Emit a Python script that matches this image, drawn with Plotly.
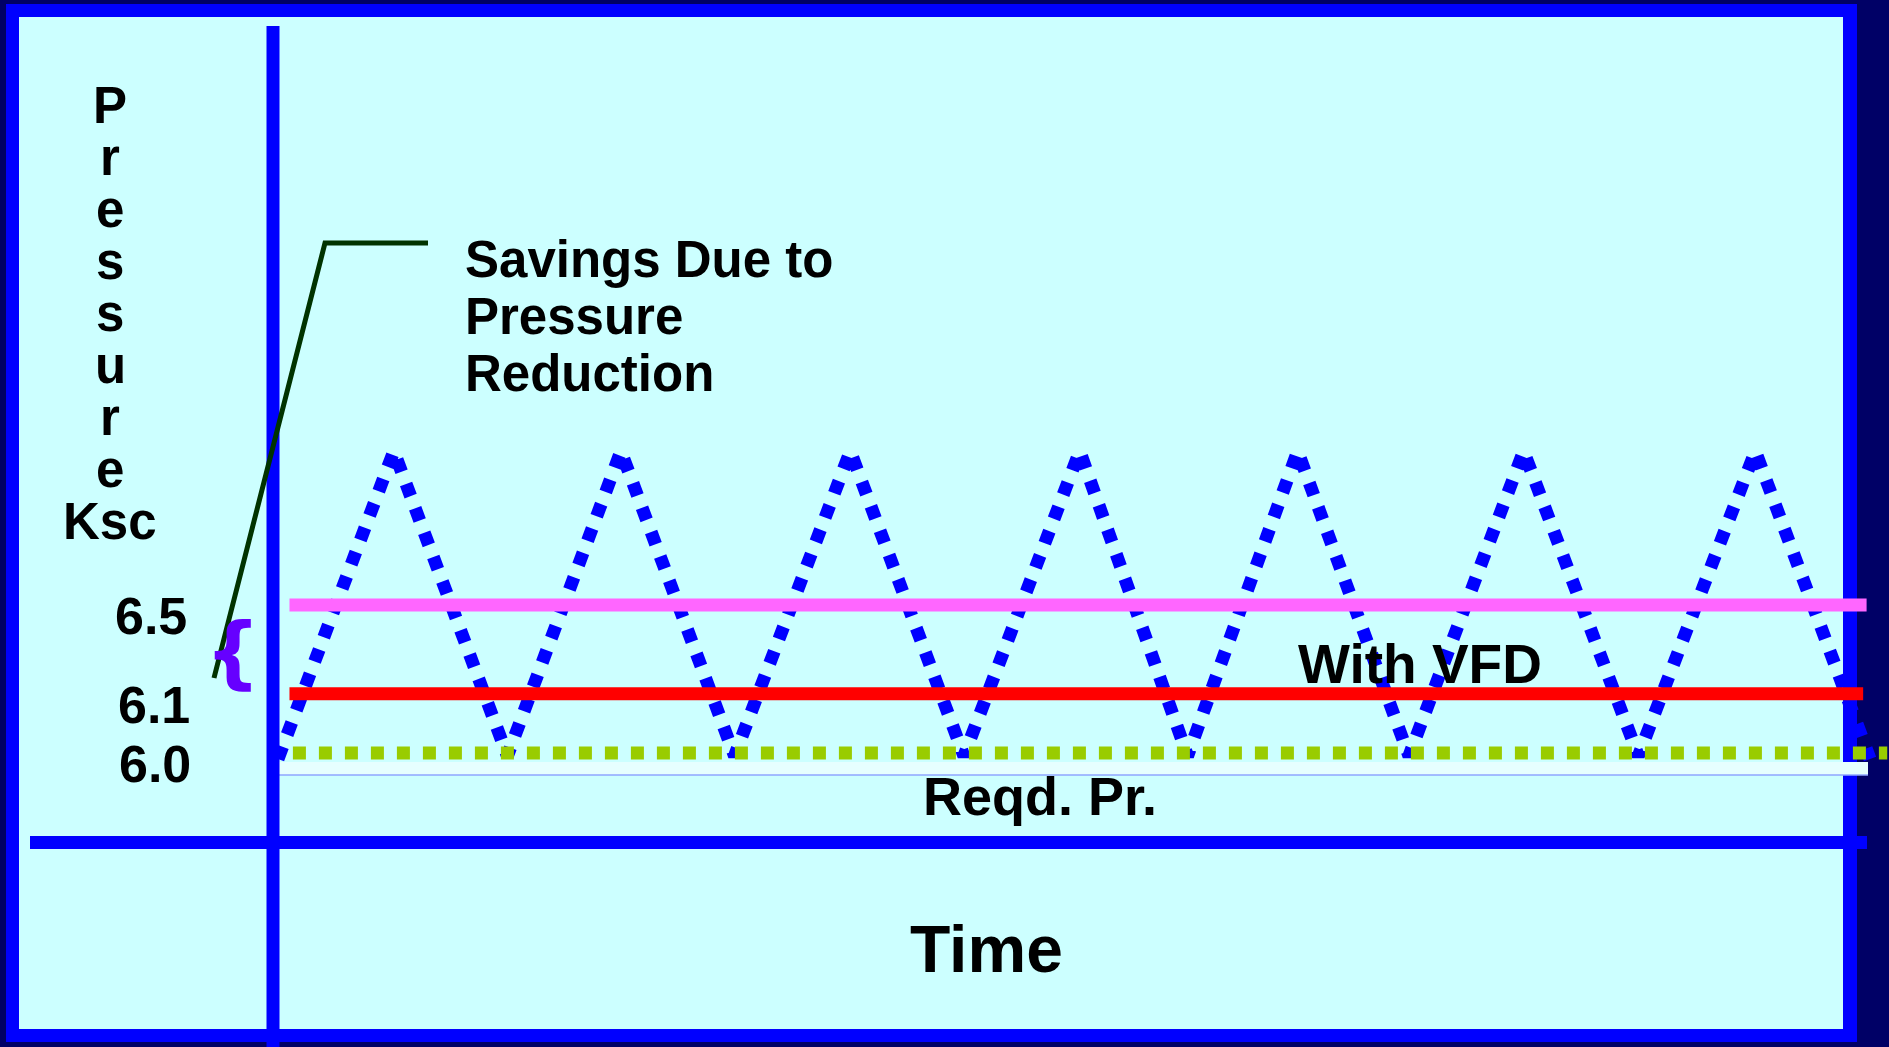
import plotly.graph_objects as go

# ---------------- data ----------------
# compressor pressure cycle without VFD (time in arbitrary units, pressure schematic)
cycle_time = [0.0, 1.01, 2.00, 2.99, 3.98, 4.99, 5.98, 6.99, 7.93, 8.89,
              9.86, 10.86, 11.86, 12.88, 13.88]
cycle_pressure = [5.98, 7.02, 5.99, 7.02, 5.99, 7.02, 5.99, 7.02, 5.99, 7.02,
                  5.99, 7.02, 5.99, 7.02, 5.98]

# constant pressure levels
fixed_level_time = [0.10, 13.85]
fixed_level_pressure = [6.5, 6.5]          # pink line
vfd_level_time = [0.10, 13.82]
vfd_level_pressure = [6.2, 6.2]            # red line "With VFD"
reqd_level_time = [0.13, 14.03]
reqd_level_pressure = [6.0, 6.0]           # green dotted "Reqd. Pr."

tick_labels = ["6.5", "6.1", "6.0"]
axis_title_letters = ["P", "r", "e", "s", "s", "u", "r", "e", "Ksc"]
savings_lines = ["Savings Due to", "Pressure", "Reduction"]

# ---------------- layout / style ----------------
W, H = 1889, 1047
X_ORIGIN_PX, X_SCALE = 278.0, 114.7      # px of time 0, px per time unit
Y_REF_PX, Y_SCALE = 753.0, 296.0         # px of pressure 6.0, px per unit

x_range = [(0 - X_ORIGIN_PX) / X_SCALE, (W - X_ORIGIN_PX) / X_SCALE]
y_range = [6.0 - (H - Y_REF_PX) / Y_SCALE, 6.0 + Y_REF_PX / Y_SCALE]

NAVY, BLUE, CYAN = "#000066", "#0000FF", "#CCFFFF"
FONT = "Liberation Sans, Arial, sans-serif"
BRACE_FONT = "DejaVu Sans, sans-serif"


def px(x):
    return x / W


def py(y):
    return 1 - y / H


fig = go.Figure()

fig.add_trace(go.Scatter(x=cycle_time, y=cycle_pressure, mode="lines",
                         line=dict(color=BLUE, width=13, dash="dot"),
                         hoverinfo="skip", showlegend=False))
fig.add_trace(go.Scatter(x=fixed_level_time, y=fixed_level_pressure, mode="lines",
                         line=dict(color="#FF66FF", width=13),
                         hoverinfo="skip", showlegend=False))
fig.add_trace(go.Scatter(x=vfd_level_time, y=vfd_level_pressure, mode="lines",
                         line=dict(color="#FF0000", width=13),
                         hoverinfo="skip", showlegend=False))
fig.add_trace(go.Scatter(x=reqd_level_time, y=reqd_level_pressure, mode="lines",
                         line=dict(color="#99CC00", width=13, dash="dot"),
                         hoverinfo="skip", showlegend=False))

shapes = [
    # blue frame and cyan panel
    dict(type="rect", xref="paper", yref="paper", x0=px(6), x1=px(1857),
         y0=py(1042), y1=py(4), fillcolor=BLUE, line_width=0, layer="below"),
    dict(type="rect", xref="paper", yref="paper", x0=px(19), x1=px(1843),
         y0=py(1029), y1=py(17), fillcolor=CYAN, line_width=0, layer="below"),
    # light band under the required-pressure line
    dict(type="rect", xref="paper", yref="paper", x0=px(277), x1=px(1868),
         y0=py(775), y1=py(762), fillcolor="#E6FFFF", line_width=0, layer="below"),
    dict(type="line", xref="paper", yref="paper", x0=px(277), x1=px(1868),
         y0=py(775), y1=py(775), line=dict(color="#8FA6FF", width=1.5), layer="below"),
    # axes
    dict(type="line", xref="paper", yref="paper", x0=px(273), x1=px(273),
         y0=py(26), y1=py(1047), line=dict(color=BLUE, width=13), layer="below"),
    dict(type="line", xref="paper", yref="paper", x0=px(30), x1=px(1867),
         y0=py(842.5), y1=py(842.5), line=dict(color=BLUE, width=13), layer="below"),
    # callout leader
    dict(type="path", xref="paper", yref="paper",
         path=f"M {px(214)} {py(678)} L {px(325)} {py(243)} L {px(428)} {py(243)}",
         line=dict(color="#003300", width=5), layer="above"),
]

annotations = []


def txt(text, x, y, size, xanchor="center", color="black", family=FONT):
    annotations.append(dict(text=text, x=px(x), y=py(y), xref="paper", yref="paper",
                            xanchor=xanchor, yanchor="middle", showarrow=False,
                            font=dict(family=family, size=size, color=color, weight="bold")))


# vertical axis title, one letter per line
for i, letter in enumerate(axis_title_letters):
    baseline = 123 + 52 * i
    txt(letter, 110, baseline - 0.3465 * 51, 51)

# tick labels
for label, yc, xc in zip(tick_labels, [616, 705, 764], [151, 154, 155]):
    txt(label, xc, yc, 52)

# callout text
for line, yc in zip(savings_lines, [259, 316, 373]):
    txt(line, 463, yc, 51, xanchor="left")

txt("With VFD", 1420, 664, 55)
txt("Reqd. Pr.", 1040, 796, 54)
txt("Time", 987, 949, 66)
txt("{", 233, 652, 78, color="#6600FF", family=BRACE_FONT)

fig.update_layout(
    width=W, height=H, autosize=False,
    margin=dict(l=0, r=0, t=0, b=0, pad=0),
    paper_bgcolor=NAVY, plot_bgcolor=NAVY,
    xaxis=dict(range=x_range, visible=False, fixedrange=True),
    yaxis=dict(range=y_range, visible=False, fixedrange=True),
    shapes=shapes, annotations=annotations, showlegend=False,
)

fig.write_html("out.html", config={"displayModeBar": False},
               post_script="document.body.style.margin='0';document.body.style.overflow='hidden';")
